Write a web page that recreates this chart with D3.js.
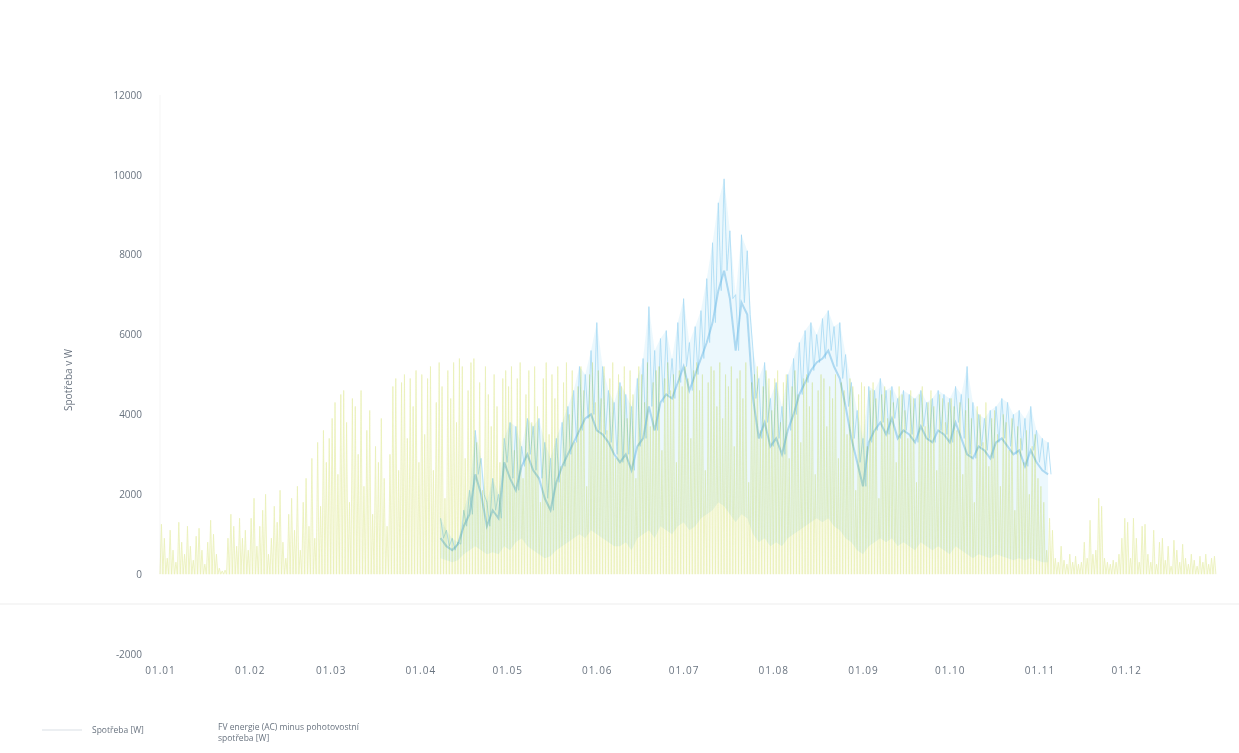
<!DOCTYPE html>
<html>
<head>
<meta charset="utf-8">
<script src="https://cdn.jsdelivr.net/npm/d3@7"></script>
<style>
  body { margin: 0; background: #fff; }
  svg { display: block; }
  text { font-family: "Open Sans", "Liberation Sans", sans-serif; fill: #6a7480; }
</style>
</head>
<body>
<svg width="1239" height="753"></svg>
<script>
// daily peak of "FV energie (AC) minus pohotovostni spotreba" [W], one value per day
const pvJan = [1250, 900, 400, 1100, 600, 300, 1300, 800, 500, 1200, 700, 350, 950, 1150, 600, 250, 800, 1350, 1000, 500, 150, 80, 100, 900, 1500, 1200, 700, 1400, 900, 1100, 600];
const pvFeb = [1400, 1900, 700, 1200, 1600, 2000, 500, 900, 1700, 1300, 2100, 800, 400, 1500, 1900, 1100, 2200, 600, 1800, 2400, 1200, 2900, 900, 3300, 1700, 3600, 2800, 3400];
const pvMar = [3900, 4300, 2500, 4500, 4600, 3800, 1800, 4400, 4200, 3000, 4600, 2200, 3600, 4100, 1500, 3200, 2800, 3900, 2400, 1200, 3000, 4700, 4900, 2600, 4800, 5000, 3400, 4900, 4200, 5100, 2800];
const pvApr = [5000, 3500, 4900, 5200, 2600, 4300, 5300, 4700, 1900, 5100, 4400, 5300, 3800, 5400, 5200, 2900, 4600, 5300, 5400, 3300, 4800, 2100, 5200, 4500, 3700, 5000, 4200, 2800, 4900, 5100];
const pvMay = [4700, 5200, 3100, 4900, 5300, 2400, 4500, 5100, 3800, 5200, 4200, 1800, 4900, 5300, 3500, 5000, 4400, 5200, 2700, 4800, 5300, 4000, 5100, 3300, 4700, 5200, 4600, 2200, 5000, 5300, 4300];
const pvJun = [5100, 4400, 5200, 3600, 4900, 5300, 2900, 5000, 4700, 5200, 3900, 5100, 4500, 2400, 5200, 5000, 4300, 5300, 3700, 4800, 5100, 5200, 3100, 4900, 5300, 4600, 5000, 2800, 5100, 4700];
const pvJul = [5200, 4900, 3400, 5100, 5300, 4600, 5000, 2600, 4800, 5200, 5100, 4200, 5300, 3900, 5000, 4700, 5200, 3200, 4900, 5100, 4400, 5300, 2300, 4800, 5000, 5200, 3600, 4700, 5100, 4900, 4100];
const pvAug = [4900, 5100, 3800, 4800, 5000, 2900, 4700, 5100, 4500, 3300, 4900, 5000, 4200, 4800, 2500, 4600, 5000, 4900, 3700, 4700, 4400, 5000, 2900, 4800, 4600, 3500, 4900, 4700, 2100, 4500, 4800];
const pvSep = [4700, 3200, 4600, 4800, 4400, 1900, 4500, 4700, 3900, 4600, 4300, 2800, 4700, 4500, 4100, 3400, 4600, 4400, 2300, 4500, 4700, 3700, 4300, 4600, 4200, 2600, 4500, 4400, 3800, 4300];
const pvOct = [4400, 4200, 3600, 4300, 2500, 4100, 4400, 3900, 1800, 4200, 4000, 3300, 4300, 2700, 3900, 4100, 3500, 2200, 4000, 3800, 3100, 3900, 1600, 3700, 3400, 2800, 3600, 2000, 3200, 3500, 2400];
const pvNov = [2200, 1800, 600, 1400, 1100, 400, 300, 700, 350, 250, 500, 300, 450, 250, 300, 800, 400, 1350, 500, 600, 1900, 1700, 400, 300, 250, 350, 300, 500, 900, 1400];
const pvDec = [1300, 400, 1400, 900, 300, 1200, 1250, 500, 300, 1100, 250, 800, 900, 350, 700, 200, 850, 600, 300, 750, 400, 250, 500, 350, 200, 450, 300, 500, 250, 400, 450];

// "Spotreba" [W], one sample every 2 days from 08.04 to 04.11
const useStart = "2013-04-08";
const useHigh = [1400, 1100, 900, 800, 1600, 2100, 3600, 2900, 1800, 2400,
  2000, 3400, 3800, 3700, 3200, 3900, 3700, 3900, 3300, 2900,
  3400, 3800, 4200, 4600, 5200, 5000, 5600, 6300, 5200, 4600,
  4300, 4800, 4500, 4200, 4900, 5400, 6700, 5600, 5900, 6100,
  5400, 6300, 6900, 5800, 6200, 6600, 7400, 8300, 9300, 9900,
  8600, 7000, 8500, 8100, 5600, 4900, 5300, 4400, 4800, 4200,
  5000, 5400, 5800, 6100, 6300, 6000, 6400, 6600, 6200, 6300,
  5500, 4800, 4100, 3400, 4700, 4600, 4900, 4600, 4700, 4400,
  4600, 4500, 4400, 4600, 4300, 4400, 4600, 4500, 4400, 4700,
  4500, 5200, 4300, 4000, 3900, 4100, 4200, 4400, 4300, 4000,
  4100, 3900, 4200, 3600, 3400, 3300];
const useCore = [900, 700, 600, 750, 1200, 1500, 2500, 2000, 1200, 1600,
  1400, 2800, 2400, 2100, 2700, 3000, 2600, 2400, 1900, 1600,
  2300, 2700, 3000, 3300, 3600, 3900, 4000, 3600, 3500, 3300,
  3000, 2800, 3000, 2600, 3200, 3400, 4200, 3600, 4300, 4500,
  4400, 4800, 5200, 4600, 5000, 5400, 5800, 6300, 7100, 7600,
  6900, 5600, 6800, 6500, 4400, 3400, 3800, 3200, 3400, 3000,
  3600, 4000, 4500, 4800, 5100, 5300, 5400, 5600, 5200, 4900,
  4200, 3400, 2800, 2200, 3300, 3600, 3800, 3500, 3900, 3400,
  3600, 3500, 3300, 3700, 3400, 3300, 3600, 3500, 3300, 3800,
  3400, 3000, 2900, 3200, 3100, 2900, 3300, 3400, 3200, 3000,
  3100, 2700, 3100, 2800, 2600, 2500];
const useLow = [400, 350, 300, 350, 500, 600, 700, 600, 500, 550,
  500, 700, 600, 800, 900, 700, 600, 500, 400, 450,
  600, 700, 800, 900, 1000, 900, 1100, 1000, 900, 800,
  700, 700, 800, 600, 900, 1000, 1100, 900, 1200, 1100,
  1000, 1200, 1300, 1100, 1200, 1400, 1500, 1600, 1800, 1700,
  1500, 1300, 1500, 1400, 1000, 800, 900, 700, 800, 700,
  900, 1000, 1100, 1200, 1300, 1400, 1300, 1400, 1200, 1100,
  900, 800, 600, 500, 700, 800, 900, 800, 900, 700,
  800, 700, 600, 800, 700, 600, 700, 600, 500, 700,
  600, 500, 400, 500, 450, 400, 500, 450, 400, 350,
  400, 350, 400, 350, 300, 300];

const yTicks = [-2000, 0, 2000, 4000, 6000, 8000, 10000, 12000];

const svg = d3.select("svg");
const parse = d3.timeParse("%Y-%m-%d");
const yearStart = parse("2013-01-01"),
      yearEnd = parse("2013-12-31");

const x = d3.scaleTime().domain([yearStart, yearEnd]).range([160, 1213]);
const y = d3.scaleLinear().domain([-2000, 12000]).range([654, 95]);

// faint line under the plot
svg.append("line")
   .attr("x1", 0).attr("x2", 1239)
   .attr("y1", 604).attr("y2", 604)
   .attr("stroke", "#ededed");
svg.append("line")
   .attr("x1", x(yearStart)).attr("x2", x(yearStart))
   .attr("y1", y(12000)).attr("y2", y(0))
   .attr("stroke", "#f5f5f5");

const defs = svg.append("defs");
defs.append("filter").attr("id", "soft")
    .append("feGaussianBlur").attr("stdDeviation", 0.6);
defs.append("filter").attr("id", "softText")
    .append("feGaussianBlur").attr("stdDeviation", 0.3);

// --- consumption (blue), drawn first
const useDates = useHigh.map((_, i) => d3.timeDay.offset(parse(useStart), 2 * i));
const use = useDates.map((d, i) => ({ date: d, hi: useHigh[i], core: useCore[i], lo: useLow[i] }));

const gUse = svg.append("g").attr("filter", "url(#soft)");

gUse.append("path")
    .datum(use)
    .attr("d", d3.area().x(d => x(d.date)).y0(d => y(d.lo)).y1(d => y(d.hi)))
    .attr("fill", "#e6f6fc")
    .attr("opacity", 0.75);

// striations between core and peak
const zig = [];
use.forEach(d => {
  zig.push([d.date, d.hi]);
  zig.push([d3.timeHour.offset(d.date, 24), d.core]);
});
gUse.append("path")
    .attr("d", d3.line().x(p => x(p[0])).y(p => y(p[1]))(zig))
    .attr("fill", "none")
    .attr("stroke", "#acdcf4")
    .attr("stroke-width", 1)
    .attr("opacity", 0.85);

gUse.append("path")
    .datum(use)
    .attr("d", d3.line().x(d => x(d.date)).y(d => y(d.core)))
    .attr("fill", "none")
    .attr("stroke", "#6db9e6")
    .attr("stroke-width", 2)
    .attr("opacity", 0.5);

// --- PV energy (yellow), one spike per day
const pvAll = [].concat(pvJan, pvFeb, pvMar, pvApr, pvMay, pvJun, pvJul, pvAug, pvSep, pvOct, pvNov, pvDec);
const spikes = [];
pvAll.forEach((v, i) => {
  const d = d3.timeDay.offset(yearStart, i);
  spikes.push([d, 0]);
  spikes.push([d3.timeHour.offset(d, 12), v]);
});
spikes.push([d3.timeDay.offset(yearStart, pvAll.length), 0]);

const gPv = svg.append("g")
    .style("mix-blend-mode", "multiply")
    .attr("filter", "url(#soft)");

gPv.append("path")
   .attr("d", d3.area().x(p => x(p[0])).y0(y(0)).y1(p => y(p[1]))(spikes))
   .attr("fill", "#f8fae6")
   .attr("opacity", 0.6);
gPv.append("path")
   .attr("d", d3.line().x(p => x(p[0])).y(p => y(p[1]))(spikes))
   .attr("fill", "none")
   .attr("stroke", "#eaf0b6")
   .attr("stroke-width", 0.8);

// --- axes
const yAxis = svg.append("g")
    .attr("transform", "translate(142,0)")
    .call(d3.axisLeft(y).tickValues(yTicks).tickSize(0).tickPadding(0).tickFormat(d => String(d)));
yAxis.select(".domain").remove();
yAxis.selectAll("text").attr("font-size", 10).style("fill", "#6a7480").attr("filter", "url(#softText)");

const xAxis = svg.append("g")
    .attr("transform", "translate(0,667)")
    .call(d3.axisBottom(x).ticks(d3.timeMonth.every(1)).tickSize(0).tickPadding(0)
            .tickFormat(d3.timeFormat("%d.%m")));
xAxis.select(".domain").remove();
xAxis.selectAll("text").attr("font-size", 10).attr("letter-spacing", 1)
     .style("fill", "#6a7480").attr("filter", "url(#softText)");

svg.append("text")
   .attr("transform", "translate(72,380) rotate(-90)")
   .attr("text-anchor", "middle")
   .attr("font-size", 10)
   .attr("filter", "url(#softText)")
   .text("Spotřeba v W");

// --- legend
svg.append("line")
   .attr("x1", 42).attr("x2", 82).attr("y1", 730).attr("y2", 730)
   .attr("stroke", "#e6eaee").attr("stroke-width", 1.5);
const legend = svg.append("g").attr("font-size", 8.5).attr("filter", "url(#softText)");
legend.append("text").attr("x", 92).attr("y", 733).text("Spotřeba  [W]");
legend.append("text").attr("x", 218).attr("y", 730).text("FV energie (AC) minus pohotovostní");
legend.append("text").attr("x", 218).attr("y", 741).text("spotřeba  [W]");
</script>
</body>
</html>
